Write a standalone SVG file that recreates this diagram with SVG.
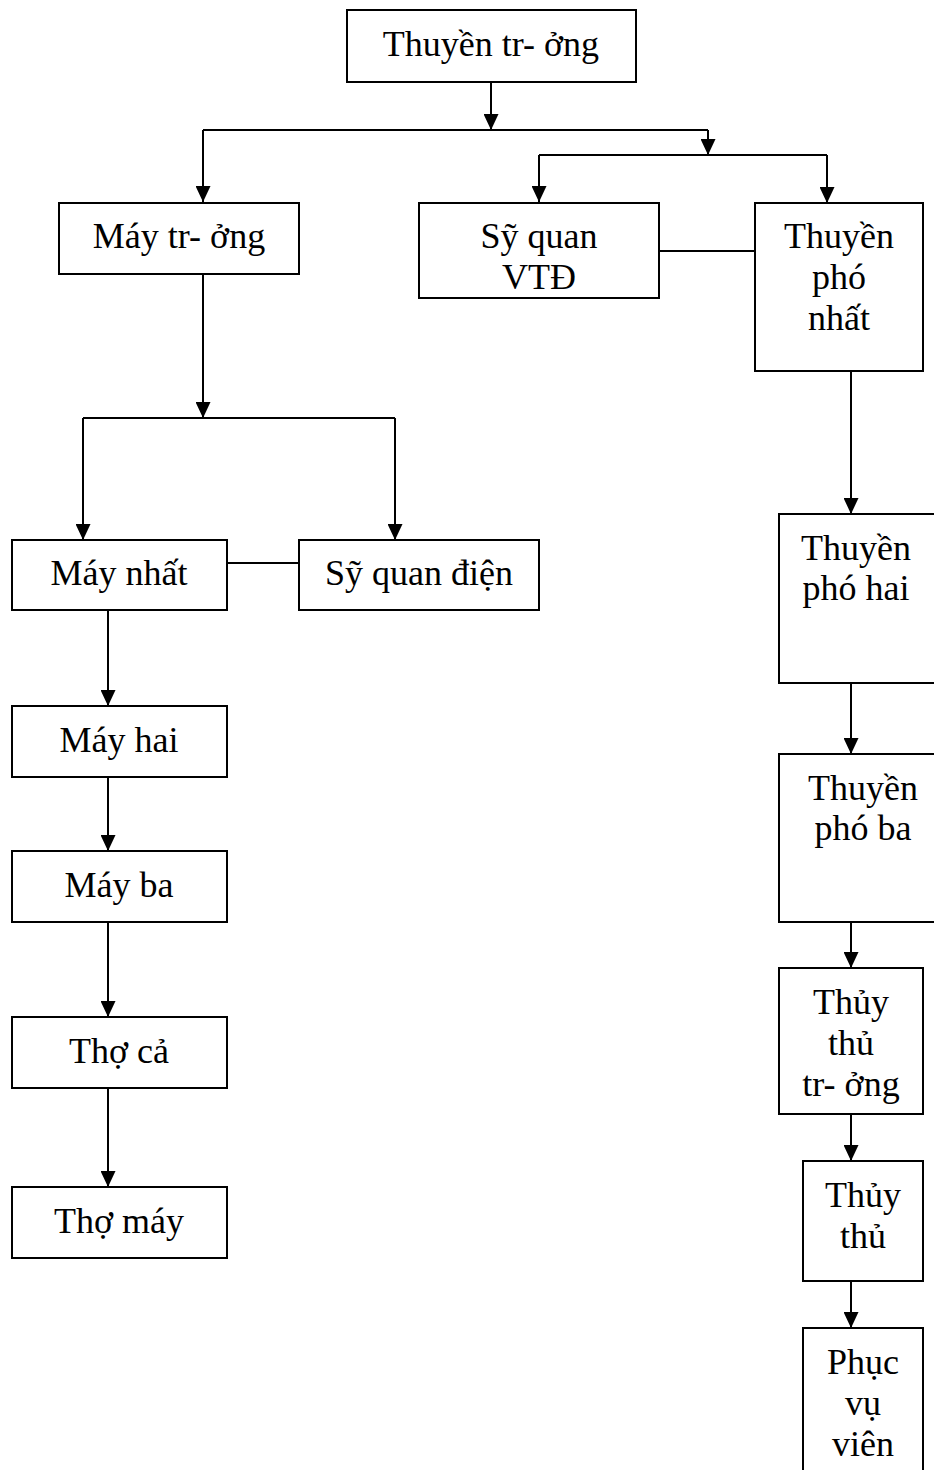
<svg xmlns="http://www.w3.org/2000/svg" width="934" height="1470" viewBox="0 0 934 1470">
  <style>
    .box { fill: #ffffff; stroke: #000000; stroke-width: 2; }
    .lbl { font-family: "Liberation Serif", "Times New Roman", serif; font-size: 36px; fill: #000000; text-anchor: middle; }
    .ln { fill: none; stroke: #000000; stroke-width: 2; }
    .ar { fill: none; stroke: #000000; stroke-width: 2; marker-end: url(#arr); }
  </style>
  <defs>
    <!-- downward filled arrowhead, tip at the end of the line -->
    <marker id="arr" viewBox="0 0 15 16" refX="7.5" refY="16" markerWidth="15" markerHeight="16" orient="0" markerUnits="userSpaceOnUse">
      <path d="M0,0 L15,0 L7.5,16 z" fill="#000000"/>
    </marker>
  </defs>
  <rect width="934" height="1470" fill="#ffffff"/>

  <!-- connectors -->
  <g id="connectors">
    <path class="ar" d="M491,82 V130"/>
    <path class="ln" d="M203,130 H708"/>
    <path class="ar" d="M203,130 V202"/>
    <path class="ar" d="M708,130 V155"/>
    <path class="ln" d="M539,155 H827"/>
    <path class="ar" d="M539,155 V202"/>
    <path class="ar" d="M827,155 V203"/>
    <path class="ln" d="M659,251 H755"/>
    <path class="ar" d="M203,274 V418"/>
    <path class="ln" d="M83,418 H395"/>
    <path class="ar" d="M83,418 V540"/>
    <path class="ar" d="M395,418 V540"/>
    <path class="ln" d="M227,563 H299"/>
    <path class="ar" d="M108,610 V706"/>
    <path class="ar" d="M108,777 V851"/>
    <path class="ar" d="M108,922 V1017"/>
    <path class="ar" d="M108,1088 V1187"/>
    <path class="ar" d="M851,371 V514"/>
    <path class="ar" d="M851,683 V754"/>
    <path class="ar" d="M851,922 V968"/>
    <path class="ar" d="M851,1114 V1161"/>
    <path class="ar" d="M851,1281 V1328"/>
  </g>

  <!-- nodes -->
  <g id="thuyen-truong">
    <rect class="box" x="347" y="10" width="289" height="72"/>
    <text class="lbl" x="491" y="56">Thuyền tr- ởng</text>
  </g>
  <g id="may-truong">
    <rect class="box" x="59" y="203" width="240" height="71"/>
    <text class="lbl" x="179" y="248">Máy tr- ởng</text>
  </g>
  <g id="sy-quan-vtd">
    <rect class="box" x="419" y="203" width="240" height="95"/>
    <text class="lbl" x="539" y="248">Sỹ quan</text>
    <text class="lbl" x="539" y="289">VTĐ</text>
  </g>
  <g id="thuyen-pho-nhat">
    <rect class="box" x="755" y="203" width="168" height="168"/>
    <text class="lbl" x="839" y="248">Thuyền</text>
    <text class="lbl" x="839" y="289">phó</text>
    <text class="lbl" x="839" y="330">nhất</text>
  </g>
  <g id="may-nhat">
    <rect class="box" x="12" y="540" width="215" height="70"/>
    <text class="lbl" x="119" y="585">Máy nhất</text>
  </g>
  <g id="sy-quan-dien">
    <rect class="box" x="299" y="540" width="240" height="70"/>
    <text class="lbl" x="419" y="585">Sỹ quan điện</text>
  </g>
  <g id="may-hai">
    <rect class="box" x="12" y="706" width="215" height="71"/>
    <text class="lbl" x="119" y="752">Máy hai</text>
  </g>
  <g id="may-ba">
    <rect class="box" x="12" y="851" width="215" height="71"/>
    <text class="lbl" x="119" y="897">Máy ba</text>
  </g>
  <g id="tho-ca">
    <rect class="box" x="12" y="1017" width="215" height="71"/>
    <text class="lbl" x="119" y="1063">Thợ cả</text>
  </g>
  <g id="tho-may">
    <rect class="box" x="12" y="1187" width="215" height="71"/>
    <text class="lbl" x="119" y="1233">Thợ máy</text>
  </g>
  <g id="thuyen-pho-hai">
    <rect class="box" x="779" y="514" width="158" height="169"/>
    <text class="lbl" x="856" y="560">Thuyền</text>
    <text class="lbl" x="856" y="600">phó hai</text>
  </g>
  <g id="thuyen-pho-ba">
    <rect class="box" x="779" y="754" width="158" height="168"/>
    <text class="lbl" x="863" y="800">Thuyền</text>
    <text class="lbl" x="863" y="840">phó ba</text>
  </g>
  <g id="thuy-thu-truong">
    <rect class="box" x="779" y="968" width="144" height="146"/>
    <text class="lbl" x="851" y="1014">Thủy</text>
    <text class="lbl" x="851" y="1055">thủ</text>
    <text class="lbl" x="851" y="1096">tr- ởng</text>
  </g>
  <g id="thuy-thu">
    <rect class="box" x="803" y="1161" width="120" height="120"/>
    <text class="lbl" x="863" y="1207">Thủy</text>
    <text class="lbl" x="863" y="1248">thủ</text>
  </g>
  <g id="phuc-vu-vien">
    <rect class="box" x="803" y="1328" width="120" height="150"/>
    <text class="lbl" x="863" y="1374">Phục</text>
    <text class="lbl" x="863" y="1415">vụ</text>
    <text class="lbl" x="863" y="1456">viên</text>
  </g>
</svg>
